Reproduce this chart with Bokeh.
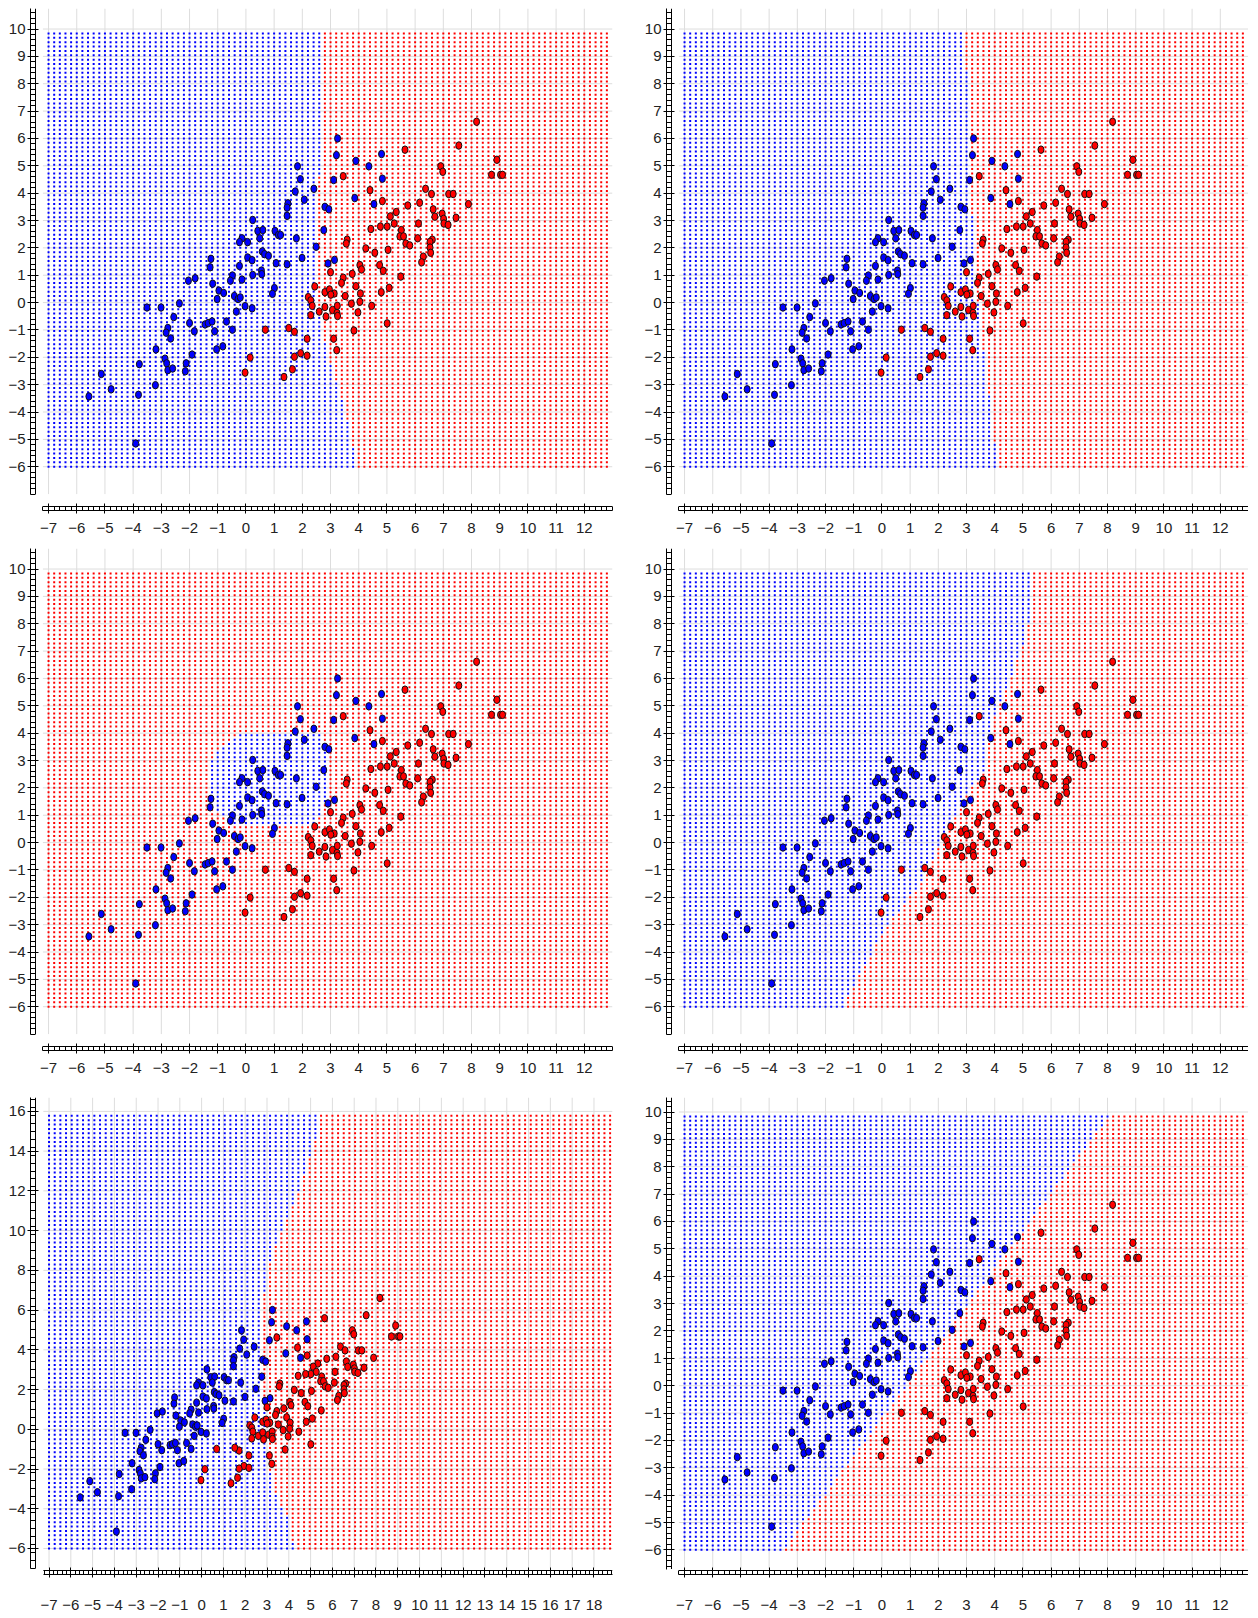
import numpy as np
from bokeh.plotting import figure
from bokeh.layouts import column, row
from bokeh.models import FixedTicker
from bokeh.embed import file_html
from bokeh.resources import INLINE

# ---------------- data ----------------
blue_x = [1.49, 1.46, 1.46, 0.24, 0.42, 0.60, 0.49, -0.14, -0.23, 0.06, 1.03, 1.15, 1.23, 0.58, 0.66,
          0.80, 0.06, 0.22, 1.07, 1.46, -1.24, -1.27, -0.23, 0.55, 0.56, 0.24, -0.48, -0.55, -0.14, -2.04,
          -1.80, -1.18, -0.96, -0.79, -1.02, -0.41, -0.28, -0.20, 1.01, 0.94, -0.03, 0.22, -0.34, -3.51, -3.01,
          -2.36, -2.56, -2.00, -1.45, -1.34, -1.20, -0.69, -1.11, -1.83, -0.48, -2.77, -2.83, -2.67, -1.04, -0.82,
          -3.19, -1.91, -2.12, -2.87, -2.81, -2.77, -2.60, -2.15, -3.78, -5.13, -4.78, -5.57, -3.21, -3.81, -3.91,
          3.25, 3.21, 4.81, 3.90, 4.36, 1.83, 1.93, 3.11, 4.84, 2.41, 1.75, 2.07, 3.86, 4.54, 2.80,
          2.94, 2.76, 1.79, 2.49, 1.99, 3.14, 2.91]
blue_y = [3.63, 3.47, 3.17, 3.02, 2.62, 2.65, 2.35, 2.35, 2.21, 2.21, 2.62, 2.47, 2.47, 1.87, 1.77,
          1.71, 1.65, 1.55, 1.44, 1.40, 1.60, 1.29, 1.34, 1.17, 1.04, 1.01, 0.99, 0.80, 0.84, 0.80,
          0.89, 0.69, 0.44, 0.35, 0.13, 0.24, 0.13, 0.19, 0.53, 0.32, -0.13, -0.21, -0.33, -0.18, -0.18,
          -0.03, -0.53, -0.75, -0.80, -0.75, -0.69, -0.69, -1.05, -1.05, -0.99, -0.93, -1.10, -1.31, -1.71, -1.60,
          -1.71, -1.90, -2.22, -2.05, -2.22, -2.47, -2.41, -2.51, -2.25, -2.61, -3.17, -3.43, -3.02, -3.37, -5.15,
          6.00, 5.39, 5.43, 5.18, 4.98, 4.98, 4.51, 4.48, 4.53, 4.16, 4.06, 3.76, 3.82, 3.60, 3.50,
          3.41, 2.65, 2.35, 2.04, 1.63, 1.56, 1.43]

red_x = [8.18, 7.55, 5.64, 8.90, 6.91, 6.98, 8.71, 9.03, 9.10, 3.45, 6.37, 6.58, 4.40, 7.19, 7.35,
         6.16, 4.84, 5.74, 7.89, 6.64, 5.33, 5.12, 6.96, 6.70, 7.45, 7.01, 7.02, 7.17, 6.12, 5.26,
         5.01, 4.77, 4.43, 5.51, 5.46, 5.59, 6.09, 6.61, 6.53, 3.59, 3.56, 5.67, 5.81, 6.53, 4.25,
         5.04, 6.55, 4.57, 6.29, 6.23, 4.74, 4.04, 4.10, 4.87, 3.00, 3.77, 5.49, 3.45, 3.39, 3.90,
         5.08, 4.80, 2.80, 2.96, 3.13, 3.01, 4.06, 3.52, 2.44, 2.21, 2.30, 2.35, 2.60, 2.80, 3.07,
         3.24, 3.74, 4.04, 4.46, 2.30, 2.84, 3.23, 3.25, 3.97, 5.01, 1.72, 3.83, 2.17, 3.11, 3.22,
         1.94, 1.72, 2.17, 0.69, 1.52, 0.15, -0.03, 1.35, 1.65]
red_y = [6.61, 5.74, 5.59, 5.22, 4.98, 4.78, 4.67, 4.67, 4.67, 4.62, 4.16, 3.97, 4.11, 3.97, 3.97,
         3.65, 3.71, 3.55, 3.60, 3.41, 3.31, 3.15, 3.25, 3.14, 3.10, 3.06, 2.89, 2.84, 2.89, 2.89,
         2.78, 2.78, 2.69, 2.65, 2.42, 2.42, 2.35, 2.30, 2.22, 2.30, 2.16, 2.16, 2.09, 2.01, 1.98,
         1.93, 1.82, 1.82, 1.68, 1.47, 1.37, 1.37, 1.21, 1.16, 1.11, 1.05, 0.95, 0.91, 0.72, 0.60,
         0.54, 0.38, 0.38, 0.48, 0.33, 0.29, 0.33, 0.24, 0.59, 0.20, 0.08, -0.12, -0.33, -0.16, -0.27,
         -0.12, -0.04, 0.03, -0.12, -0.46, -0.51, -0.38, -0.49, -0.36, -0.76, -1.07, -1.02, -1.32, -1.32, -1.74,
         -1.85, -1.98, -1.94, -0.99, -0.93, -2.01, -2.56, -2.72, -2.44]

# tick labels
x_ticks_std = list(range(-7, 13))
y_ticks_std = list(range(-6, 11))
x_ticks_wide = list(range(-7, 19))
y_ticks_wide = list(range(-6, 17, 2))

# evaluation grids of the classifiers
grid_std_x = -7 + 0.2 * np.arange(100)
grid_std_y = -6 + 0.16 * np.arange(100)
grid_wide_x = -7 + 0.26 * np.arange(100)
grid_wide_y = -6 + 0.22 * np.arange(100)

# decision boundaries (x of boundary at given y; blue on the left)
b1_y = [-6.0, -4.0, -2.0, 0.5, 4.3, 5.0, 10.0]
b1_x = [3.95, 3.55, 2.9, 2.5, 2.5, 2.7, 2.75]
b2_y = [-6.0, 0.0, 4.0, 10.0]
b2_x = [4.1, 3.4, 3.15, 2.95]
b3_poly_x = [-0.3, 2.6, 2.9, 2.9, 2.5, -0.6, -1.3, -1.3]
b3_poly_y = [4.0, 4.0, 3.6, 1.7, 0.7, 0.7, 1.4, 3.0]
b4_y = [-6.0, -5.04, -4.03, -3.09, -2.02, -1.02, -0.05, 1.05, 1.9, 2.51, 3.48, 4.58, 5.43, 7.14, 7.99, 10.0]
b4_x = [-1.35, -0.9, -0.35, 0.1, 0.98, 1.63, 2.04, 2.63, 3.11, 3.6, 3.76, 3.96, 4.35, 4.97, 5.2, 5.35]
b5_y = [-6.0, -4.5, -2.8, 1.4, 6.27, 9.04, 11.4, 13.24, 15.0, 16.0]
b5_x = [4.25, 3.96, 3.2, 2.85, 2.8, 3.25, 4.25, 4.85, 5.35, 5.45]
b6_y = [-6.0, 10.0]
b6_x = [-3.5, 8.15]

BLUE = "#0000ff"
RED = "#ff0000"
FONT = "Liberation Sans"


def mask_line(gx, gy, by, bx):
    X, Y = np.meshgrid(gx, gy)
    xb = np.interp(Y, by, bx)
    return X, Y, X < xb


def mask_poly(gx, gy, px, py):
    X, Y = np.meshgrid(gx, gy)
    inside = np.zeros(X.shape, dtype=bool)
    n = len(px)
    j = n - 1
    for i in range(n):
        xi, yi, xj, yj = px[i], py[i], px[j], py[j]
        if yi != yj:
            cond = ((yi > Y) != (yj > Y)) & (X < (xj - xi) * (Y - yi) / (yj - yi) + xi)
            inside ^= cond
        j = i
    return X, Y, inside


def make_panel(X, Y, blue_mask, xr, yr, xt, yt, xminor, yminor, grid_left, grid_bottom,
               width, height, bl, br, bt, bb, xstand):
    p = figure(width=width, height=height, x_range=xr, y_range=yr,
               output_backend="svg", toolbar_location=None,
               min_border_left=bl, min_border_right=br, min_border_top=bt, min_border_bottom=bb)
    p.outline_line_color = None
    p.background_fill_color = "white"
    p.border_fill_color = "white"
    p.xgrid.grid_line_color = None
    p.ygrid.grid_line_color = None

    frame_w = width - bl - br
    frame_h = height - bt - bb
    ppx = frame_w / (xr[1] - xr[0])
    ppy = frame_h / (yr[1] - yr[0])

    # grid lines
    p.segment(x0=xt, y0=[grid_bottom] * len(xt), x1=xt, y1=[yr[1]] * len(xt),
              line_color="#dddddd", line_width=1)
    p.segment(x0=[grid_left] * len(yt), y0=yt, x1=[xr[1]] * len(yt), y1=yt,
              line_color="#dddddd", line_width=1)

    # classifier output grid
    xs = X.ravel()
    ys = Y.ravel()
    m = blue_mask.ravel()
    p.scatter(xs[m], ys[m], marker="square", size=2, fill_color=BLUE, line_color=None)
    p.scatter(xs[~m], ys[~m], marker="square", size=2, fill_color=RED, line_color=None)

    # data points
    p.ellipse(blue_x, blue_y, width=6, height=7.5, width_units="screen", height_units="screen",
              fill_color=BLUE, line_color="#111111", line_width=1)
    p.ellipse(red_x, red_y, width=6, height=7.5, width_units="screen", height_units="screen",
              fill_color=RED, line_color="#111111", line_width=1)

    # inner rails of the ladder axes
    rail_y = yr[0] + 4 / ppy
    rail_x = xr[0] + 5 / ppx
    p.segment(x0=[grid_left], y0=[rail_y], x1=[xr[1]], y1=[rail_y], line_color="black", line_width=1)
    p.segment(x0=[rail_x], y0=[grid_bottom], x1=[rail_x], y1=[yr[1]], line_color="black", line_width=1)

    # axes
    p.xaxis.ticker = FixedTicker(ticks=xt, minor_ticks=xminor)
    p.yaxis.ticker = FixedTicker(ticks=yt, minor_ticks=yminor)
    p.xaxis.bounds = (grid_left, xr[1])
    p.yaxis.bounds = (grid_bottom, yr[1])
    for ax, tin, std in ((p.xaxis, 4, xstand), (p.yaxis, 5, 2)):
        ax.axis_line_color = "black"
        ax.axis_line_width = 1
        ax.major_tick_in = tin + 3
        ax.major_tick_out = 3
        ax.minor_tick_in = tin
        ax.minor_tick_out = 0
        ax.major_tick_line_color = "black"
        ax.minor_tick_line_color = "black"
        ax.major_label_text_font = FONT
        ax.major_label_text_font_size = "15px"
        ax.major_label_text_color = "#222222"
        ax.major_label_standoff = std
    return p


std_xr = (-7.64, 13.0)
std_yr = (-7.6, 10.75)
x_minor_std = list(np.round(np.arange(-7.2, 13.001, 0.2), 2))
y_minor_std = list(np.round(np.arange(-7.0, 10.701, 0.2), 2))

panels = []
specs = [
    mask_line(grid_std_x, grid_std_y, b1_y, b1_x),
    mask_line(grid_std_x, grid_std_y, b2_y, b2_x),
    mask_poly(grid_std_x, grid_std_y, b3_poly_x, b3_poly_y),
    mask_line(grid_std_x, grid_std_y, b4_y, b4_x),
]
for i, (X, Y, M) in enumerate(specs):
    left = (i % 2 == 0)
    panels.append(make_panel(X, Y, M, std_xr, std_yr, x_ticks_std, y_ticks_std,
                             x_minor_std, y_minor_std, -7.2, -7.0,
                             637 if left else 611, 540,
                             30 if left else 29, 25 if left else 0, 8, 30, 9))

# row 3
X5, Y5, M5 = mask_line(grid_wide_x, grid_wide_y, b5_y, b5_x)
p5 = make_panel(X5, Y5, M5, (-7.85, 18.85), (-7.31, 16.70), x_ticks_wide, y_ticks_wide,
                list(np.round(np.arange(-7.2, 18.801, 0.2), 2)),
                list(np.round(np.arange(-7.0, 16.61, 0.4), 2)),
                -7.26, -7.0, 637, 538, 30, 25, 17, 44, 22)
X6, Y6, M6 = mask_line(grid_std_x, grid_std_y, b6_y, b6_x)
p6 = make_panel(X6, Y6, M6, std_xr, (-6.90, 10.53), x_ticks_std, y_ticks_std,
                x_minor_std, list(np.round(np.arange(-6.6, 10.41, 0.2), 2)),
                -7.2, -6.7, 611, 538, 29, 0, 17, 44, 22)

layout = column(row(panels[0], panels[1]), row(panels[2], panels[3]), row(p5, p6))

with open("out.html", "w") as f:
    f.write(file_html(layout, INLINE))
